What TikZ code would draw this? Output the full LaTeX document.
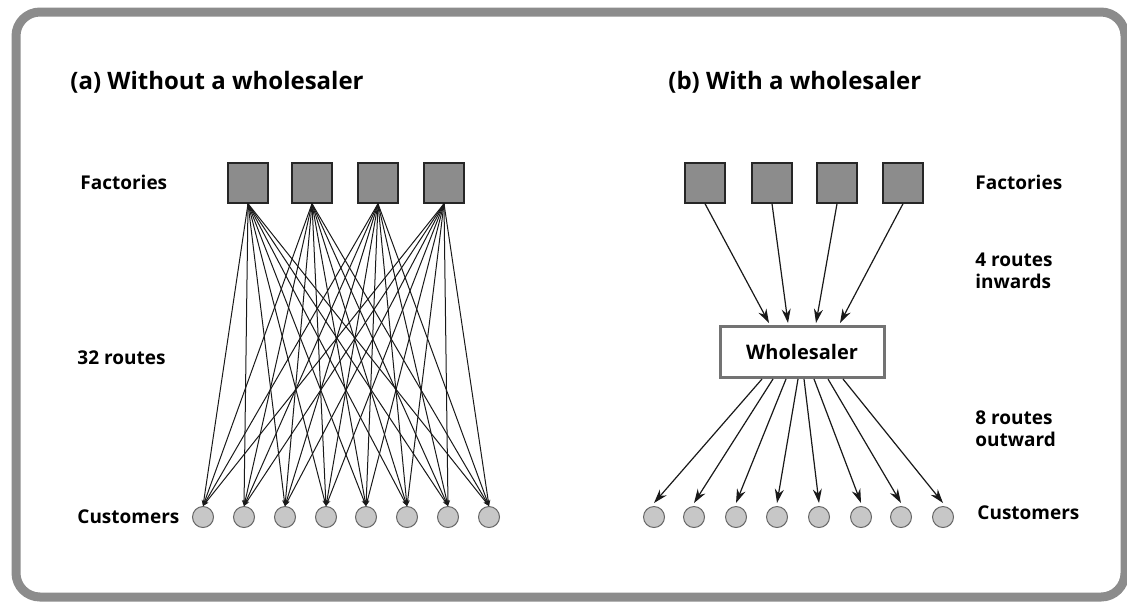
\documentclass[tikz,border=0pt]{standalone}
\usepackage{fontspec}
\setmainfont{Open Sans}
\usetikzlibrary{arrows.meta,calc}

\begin{document}
\begin{tikzpicture}[x=0.5pt,y=-0.5pt,
    factory/.style={draw=black!85,fill=black!45,line width=0.7pt,minimum size=20pt,inner sep=0pt},
    customer/.style={circle,draw=black!60,fill=black!22,line width=0.5pt,minimum size=10.5pt,inner sep=0pt},
    route/.style={line width=0.5pt,black!90,-{Stealth[length=3pt,width=2.2pt]}},
    bigroute/.style={line width=0.6pt,black!90,-{Stealth[length=7pt,width=4.5pt]}},
    paneltitle/.style={font=\bfseries\fontsize{12}{14}\selectfont,anchor=west,inner sep=0pt},
    sidelabel/.style={font=\bfseries\fontsize{9.5}{11}\selectfont,anchor=west,align=left,inner sep=0pt}]

\useasboundingbox (0,0) rectangle (1127,602);

% Frame
\draw[black!45,line width=4.5pt,rounded corners=12pt] (16,12) rectangle (1125,597);

% (a) Without a wholesaler
\node[paneltitle] (ta) at (70,82) {(a) Without a wholesaler};
\node[sidelabel] (lfa) at (80,182) {Factories};
\node[sidelabel] (lra) at (77,358) {32 routes};
\node[sidelabel] (lca) at (77,517) {Customers};

\foreach \i/\x in {1/248,2/312,3/378,4/444}
    \node[factory] (fa\i) at (\x,183) {};
\foreach \j/\x in {1/203,2/244,3/285,4/326,5/366,6/407,7/448,8/489}
    \node[customer] (ca\j) at (\x,517) {};

% Every factory to every customer
\foreach \i in {1,...,4}
    \foreach \j in {1,...,8}
        \draw[route] (fa\i.south) -- (ca\j.north);

% (b) With a wholesaler
\node[paneltitle] (tb) at (668,82) {(b) With a wholesaler};
\node[sidelabel] (lfb) at (975,182) {Factories};
\node[sidelabel] (lin) at (975,271) {4 routes\\inwards};
\node[sidelabel] (lout) at (975,429) {8 routes\\outward};
\node[sidelabel] (lcb) at (977,513) {Customers};

\foreach \i/\x in {1/705,2/772,3/837,4/903}
    \node[factory] (fb\i) at (\x,183) {};
\foreach \j/\x in {1/654,2/694,3/736,4/777,5/819,6/861,7/901,8/943}
    \node[customer] (cb\j) at (\x,517) {};

\node[draw=black!55,line width=1.5pt,minimum width=82pt,minimum height=25.5pt,
      font=\bfseries\fontsize{10}{12}\selectfont] (w) at (802,352) {Wholesaler};

% Inward routes
\foreach \i/\dx in {1/-33,2/-14,3/14,4/38}
    \draw[bigroute] (fb\i.south) -- ($(w.north)+(\dx,-2)$);
% Outward routes
\foreach \j/\dx in {1/-40,2/-29,3/-16,4/-4,5/2,6/12,7/26,8/41}
    \draw[bigroute] ($(w.south)+(\dx,0)$) -- ($(cb\j.north)+(0,-3)$);

\end{tikzpicture}
\end{document}
